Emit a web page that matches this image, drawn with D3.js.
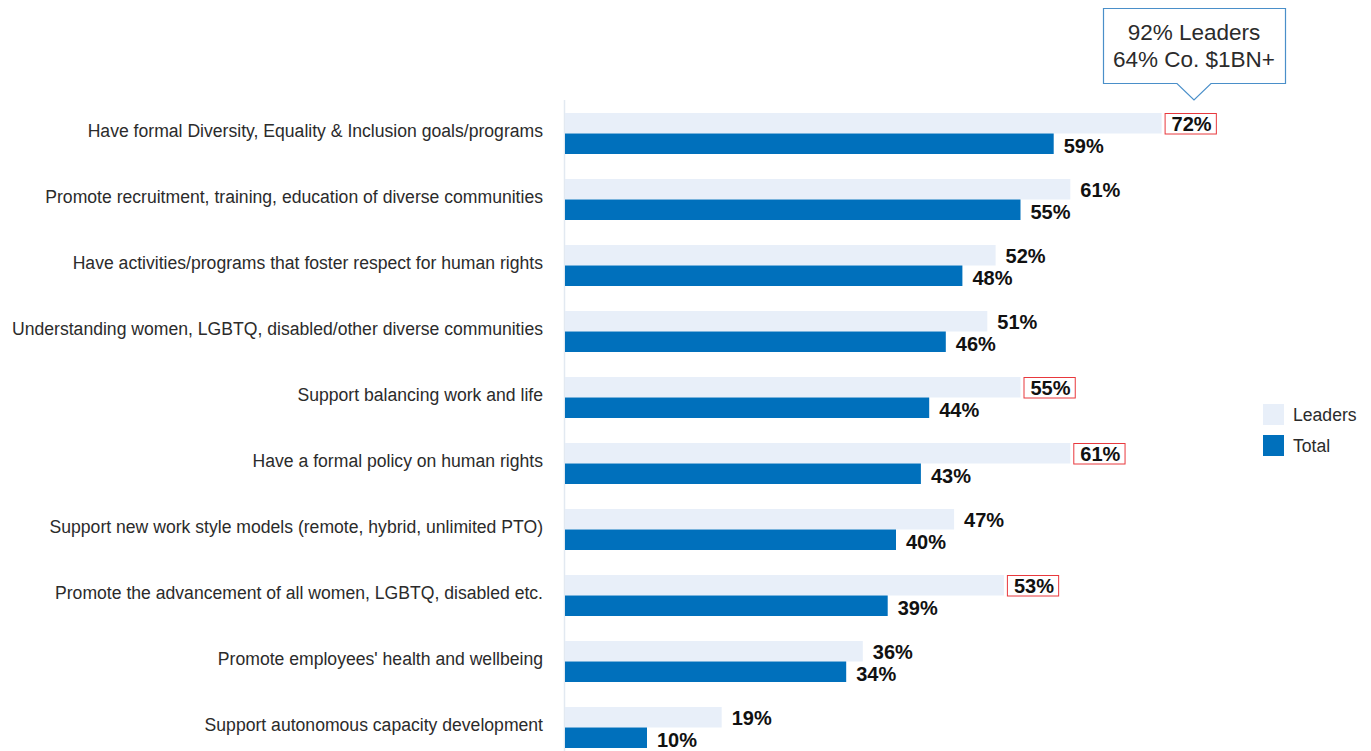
<!DOCTYPE html>
<html>
<head>
<meta charset="utf-8">
<script src="https://cdn.jsdelivr.net/npm/d3@7"></script>
<style>
  html, body { margin: 0; padding: 0; background: #fff; }
  svg { display: block; }
</style>
</head>
<body>
<svg id="chart" width="1371" height="751"></svg>
<script>
// Practices adopted, share of respondents (%)
const categories = [
  "Have formal Diversity, Equality & Inclusion goals/programs",
  "Promote recruitment, training, education of diverse communities",
  "Have activities/programs that foster respect for human rights",
  "Understanding women, LGBTQ, disabled/other diverse communities",
  "Support balancing work and life",
  "Have a formal policy on human rights",
  "Support new work style models (remote, hybrid, unlimited PTO)",
  "Promote the advancement of all women, LGBTQ, disabled etc.",
  "Promote employees' health and wellbeing",
  "Support autonomous capacity development"
];
const seriesNames = ["Leaders", "Total"];
const leaders = [72, 61, 52, 51, 55, 61, 47, 53, 36, 19];
const total   = [59, 55, 48, 46, 44, 43, 40, 39, 34, 10];
// Leader values that stand out from the total
const highlighted = [true, false, false, false, true, true, false, true, false, false];
const calloutLines = ["92% Leaders", "64% Co. $1BN+"];

const colors = { Leaders: "#e8eff9", Total: "#0070bc" };
const textColor = "#2b2b2b";
const font = "'Liberation Sans', Arial, sans-serif";

const svg = d3.select("#chart");

const x = d3.scaleLinear().domain([0, 100]).range([564, 1394]);
const y = d3.scaleBand().domain(categories).range([100, 760]).padding(0);
const inner = d3.scaleBand().domain(seriesNames).range([13, 54]).padding(0);

const rows = categories.map((c, i) => ({
  category: c,
  values: [
    { series: "Leaders", value: leaders[i], highlight: highlighted[i] },
    { series: "Total", value: total[i], highlight: false }
  ]
}));

// Baseline
svg.append("line")
  .attr("x1", x(0) + 0.5).attr("x2", x(0) + 0.5)
  .attr("y1", 100).attr("y2", 751)
  .attr("stroke", "#e2e9f1").attr("stroke-width", 1.5);

// Category labels
svg.append("g").selectAll("text")
  .data(categories)
  .join("text")
  .attr("x", 543)
  .attr("y", d => y(d) + 31)
  .attr("dy", "0.35em")
  .attr("text-anchor", "end")
  .attr("font-family", font)
  .attr("font-size", 17.6)
  .attr("fill", textColor)
  .text(d => d);

const groups = svg.append("g").selectAll("g")
  .data(rows)
  .join("g")
  .attr("transform", d => `translate(0,${y(d.category)})`);

groups.selectAll("rect.bar")
  .data(d => d.values)
  .join("rect")
  .attr("class", "bar")
  .attr("x", x(0) + 1)
  .attr("y", d => inner(d.series))
  .attr("width", d => x(d.value) - x(0) - 1)
  .attr("height", inner.bandwidth())
  .attr("fill", d => colors[d.series]);

const labels = groups.selectAll("text.val")
  .data(d => d.values)
  .join("text")
  .attr("class", "val")
  .attr("x", d => x(d.value) + 10)
  .attr("y", d => inner(d.series) + inner.bandwidth() / 2 + (d.series === "Total" ? 2 : 1))
  .attr("dy", "0.35em")
  .attr("font-family", font)
  .attr("font-size", 20)
  .attr("font-weight", "bold")
  .attr("fill", "#111")
  .text(d => d.value + "%");

// Red outline around highlighted leader values
labels.filter(d => d.highlight).each(function(d) {
  const b = this.getBBox();
  d3.select(this.parentNode).insert("rect", "text.val")
    .attr("x", b.x - 6.5)
    .attr("y", inner(d.series) + 0.5)
    .attr("width", b.width + 11)
    .attr("height", inner.bandwidth())
    .attr("fill", "#fff")
    .attr("stroke", "#e8383d")
    .attr("stroke-width", 1);
});

// Callout above the first bar
const cx = 1194;
const box = { left: 1103.5, right: 1285.5, top: 8.5, bottom: 83.5 };
const calloutPath = d3.path();
calloutPath.moveTo(box.left, box.top);
calloutPath.lineTo(box.right, box.top);
calloutPath.lineTo(box.right, box.bottom);
calloutPath.lineTo(cx + 17, box.bottom);
calloutPath.lineTo(cx, 100);
calloutPath.lineTo(cx - 17, box.bottom);
calloutPath.lineTo(box.left, box.bottom);
calloutPath.closePath();
svg.append("path")
  .attr("d", calloutPath.toString())
  .attr("fill", "#fff")
  .attr("stroke", "#4a8fc9")
  .attr("stroke-width", 1.2);

svg.append("g").selectAll("text")
  .data(calloutLines)
  .join("text")
  .attr("x", cx)
  .attr("y", (d, i) => 40 + i * 27)
  .attr("text-anchor", "middle")
  .attr("font-family", font)
  .attr("font-size", 22.5)
  .attr("fill", textColor)
  .text(d => d);

// Legend
const legend = svg.append("g").selectAll("g")
  .data(seriesNames)
  .join("g")
  .attr("transform", (d, i) => `translate(1263,${404 + i * 31})`);
legend.append("rect")
  .attr("width", 21).attr("height", 21)
  .attr("fill", d => colors[d]);
legend.append("text")
  .attr("x", 30).attr("y", 11)
  .attr("dy", "0.35em")
  .attr("font-family", font)
  .attr("font-size", 17.6)
  .attr("fill", textColor)
  .text(d => d);
</script>
</body>
</html>
